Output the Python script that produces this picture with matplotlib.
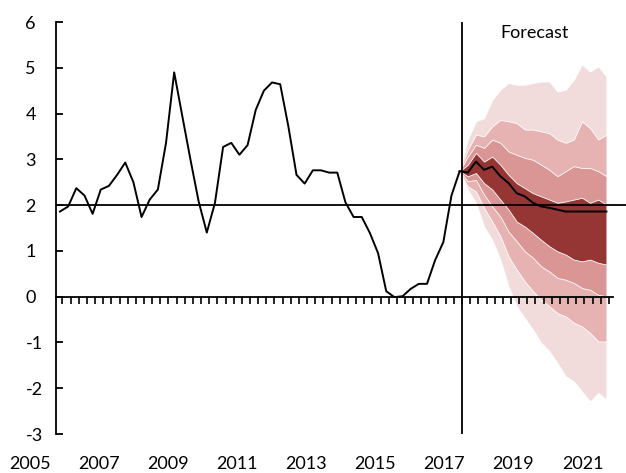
import matplotlib
matplotlib.use("Agg")
import matplotlib.pyplot as plt
import numpy as np

plt.rcParams["font.family"] = ["Lato", "DejaVu Sans"]

# CPI history, quarterly from 2005 Q1
history = [1.86, 1.97, 2.37, 2.21, 1.81, 2.34, 2.42, 2.66, 2.93, 2.50,
           1.74, 2.12, 2.34, 3.36, 4.90, 3.94, 2.99, 2.08, 1.40, 2.05,
           3.27, 3.36, 3.10, 3.31, 4.08, 4.50, 4.68, 4.64, 3.72, 2.66,
           2.47, 2.76, 2.76, 2.71, 2.71, 2.06, 1.74, 1.74, 1.39, 0.95,
           0.12, -0.01, 0.01, 0.17, 0.28, 0.28, 0.80, 1.19, 2.21, 2.74]

# fan chart boundaries, forecast quarters starting at last history point
outer_hi = [2.74, 3.43, 3.83, 3.90, 4.30, 4.52, 4.67, 4.63, 4.63, 4.67,
            4.70, 4.70, 4.48, 4.52, 4.74, 5.07, 4.92, 5.03, 4.81]
mid_hi = [2.74, 3.21, 3.54, 3.50, 3.72, 3.86, 3.83, 3.79, 3.65, 3.65,
          3.61, 3.57, 3.43, 3.36, 3.43, 3.83, 3.68, 3.43, 3.54]
inner_hi = [2.74, 3.06, 3.32, 3.25, 3.43, 3.36, 3.17, 3.10, 3.03, 2.99,
            2.88, 2.77, 2.63, 2.74, 2.85, 2.81, 2.81, 2.74, 2.63]
core_hi = [2.74, 2.88, 3.14, 2.95, 3.06, 2.88, 2.66, 2.48, 2.37, 2.26,
           2.19, 2.12, 2.05, 2.08, 2.12, 2.16, 2.05, 2.12, 2.01]
median = [2.74, 2.71, 2.95, 2.77, 2.84, 2.63, 2.48, 2.26, 2.19, 2.05,
          1.97, 1.94, 1.90, 1.86, 1.86, 1.86, 1.86, 1.86, 1.86]
core_lo = [2.74, 2.63, 2.70, 2.48, 2.34, 2.12, 1.90, 1.64, 1.53, 1.39,
           1.24, 1.10, 0.99, 0.92, 0.81, 0.77, 0.81, 0.74, 0.70]
inner_lo = [2.74, 2.52, 2.55, 2.23, 1.97, 1.75, 1.42, 1.21, 0.99, 0.85,
            0.66, 0.55, 0.41, 0.37, 0.30, 0.19, 0.15, 0.04, 0.01]
mid_lo = [2.74, 2.41, 2.30, 1.94, 1.64, 1.32, 0.88, 0.59, 0.33, 0.12,
          -0.07, -0.21, -0.36, -0.43, -0.57, -0.65, -0.79, -0.98, -0.98]
outer_lo = [2.74, 2.34, 2.05, 1.53, 1.24, 0.81, 0.22, -0.21, -0.47, -0.72,
            -1.01, -1.19, -1.45, -1.74, -1.85, -2.07, -2.29, -2.10, -2.25]

year_labels = ["2005", "2007", "2009", "2011", "2013", "2015", "2017", "2019", "2021"]
y_ticks = [-3, -2, -1, 0, 1, 2, 3, 4, 5, 6]
y_labels = ["-3", "-2", "-1", "0", "1", "2", "3", "4", "5", "6"]

PX_Q = 8.16  # pixels per quarter in the reference
x_hist = np.arange(len(history))
x_fc = np.arange(len(median)) + len(history) - 1

fig = plt.figure(figsize=(6.26, 4.73), dpi=100)
ax = fig.add_axes([56 / 626, 39 / 473, 570 / 626, 412 / 473])
ax.set_xlim(-0.49, 69.4)
ax.set_ylim(-3, 6)

colors = ["#f2dcdb", "#e6b3b2", "#d99694", "#963634"]
bands = [(outer_lo, outer_hi), (mid_lo, mid_hi), (inner_lo, inner_hi), (core_lo, core_hi)]
for (lo, hi), c in zip(bands, colors):
    ax.fill_between(x_fc, lo, hi, color=c, lw=0.6, edgecolor="white", zorder=1)

ax.axhline(2, color="black", lw=1.3, zorder=3)
ax.axvline(49.3, color="black", lw=1.3, zorder=3)
ax.plot([-0.49, 67.8], [0, 0], color="black", lw=1.3, zorder=3, clip_on=False)
qt = np.arange(0, 68) + 0.3
ax.vlines(qt, -0.15, 0, color="black", lw=1.2, zorder=3)

ax.plot(x_hist, history, color="black", lw=1.4, zorder=4)
ax.plot(x_fc, median, color="black", lw=1.4, zorder=4)

for s in ["top", "right", "bottom"]:
    ax.spines[s].set_visible(False)
ax.spines["left"].set_linewidth(1.3)
ax.set_yticks(y_ticks)
ax.set_yticklabels(y_labels, fontsize=13)
ax.tick_params(axis="y", direction="in", length=5, width=1.3, pad=22)
for t in ax.get_yticklabels():
    t.set_horizontalalignment("left")
ax.set_xticks([])

label_pos = [(30 + 69.1 * k - 60) / PX_Q for k in range(len(year_labels))]
for p, lab in zip(label_pos, year_labels):
    ax.text(p, -0.072, lab, transform=ax.get_xaxis_transform(), ha="center",
            va="center", fontsize=13, clip_on=False)

ax.text(58.2, 5.76, "Forecast", ha="center", va="center", fontsize=13)

fig.savefig("out.png", dpi=100)
